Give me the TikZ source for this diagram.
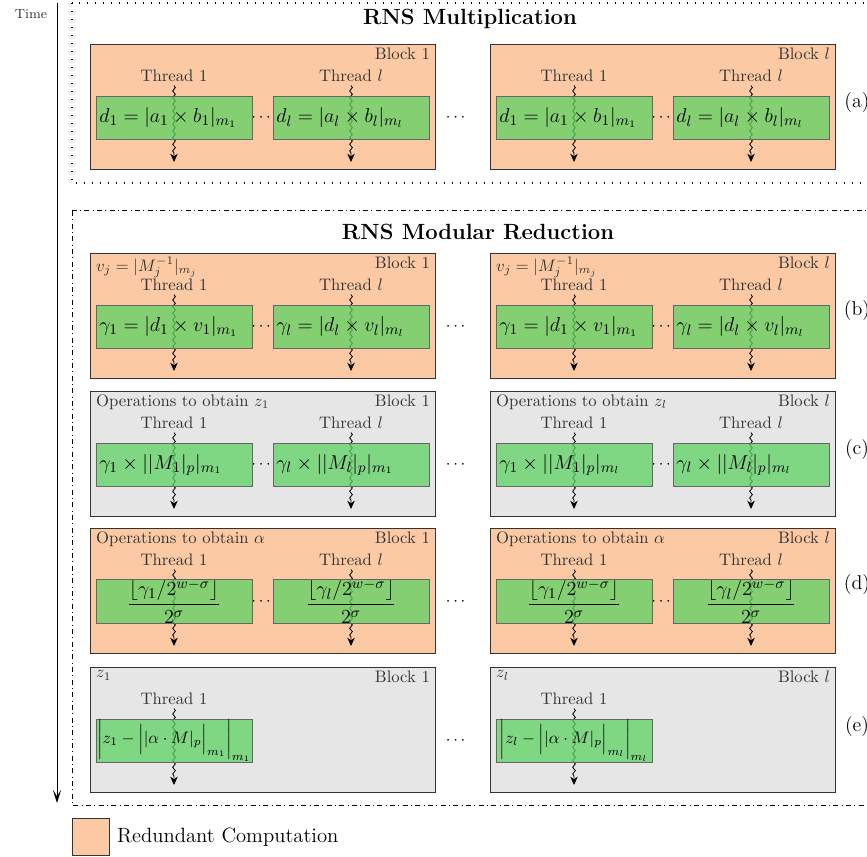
\documentclass[tikz,border=0pt]{standalone}
\usepackage{amsmath}
\usepackage{tikz}
\usetikzlibrary{arrows.meta, decorations.pathmorphing, positioning}
\definecolor{peach}{HTML}{FBC9A4}
\definecolor{thrgreen}{HTML}{5ED263}
\definecolor{blkgray}{HTML}{E6E6E6}

\tikzset{
  blockbox/.style={draw=black!80, line width=0.6pt, minimum width=207pt, minimum height=75pt, inner sep=0pt},
  hdr/.style={text=black!80, inner xsep=3.5pt, inner ysep=2pt},
  thrlabel/.style={text=black!80, inner sep=2pt},
  thrbox/.style={draw=black!60, fill=thrgreen, fill opacity=0.75, text opacity=1,
    minimum width=93.6pt, minimum height=25.8pt, text width=89.6pt,
    inner xsep=2pt, inner ysep=0pt, align=left, font=\fontsize{12.8}{15}\selectfont},
  widebox/.style={text width={}, inner xsep=0.5pt, font=\normalsize},
  thrflow/.style={line width=0.5pt, -{Stealth[length=5pt, width=4.5pt]},
    decorate, decoration={snake, amplitude=0.8pt, segment length=4pt, post length=4pt}},
  title/.style={font=\fontsize{13.2}{16}\selectfont\bfseries},
  rowlabel/.style={font=\large}
}

% block: name, left, top, fill, block label, header, gap text
\newcommand{\gpublock}[7]{%
  \node[blockbox, fill=#4, anchor=north west] (#1) at (#2,#3) {};
  \node[hdr, anchor=north east] (#1n) at (#1.north east) {#5};
  \node[hdr, anchor=north west] (#1h) at (#1.north west) {#6};
  \node (#1d) at (#2+172.5,#3+73.5) {#7};
}
% thread: [box style] name, centre x, block top, label, body
\newcommand{\gputhread}[6][]{%
  \node[thrlabel] (#2l) at (#3,#4+32) {#5};
  \coordinate (#2e) at (#3,#4+118);
  \draw[thrflow] (#2l) -- (#2e);
  \node[thrbox,#1] (#2) at (#3,#4+73.5) {#6};
}

\begin{document}
\begin{tikzpicture}[x=0.6pt, y=-0.6pt]
  \useasboundingbox (0,0) rectangle (867,857);
  \clip (0,0) rectangle (867,857);

  % time axis
  \node[font=\footnotesize, text=black!80] (time) at (31,14) {Time};
  \coordinate (t0) at (57,3);
  \coordinate (t1) at (57,803);
  \draw[line width=0.6pt, -{Stealth[length=8pt, width=5pt, inset=4pt]}] (t0) -- (t1);

  % frames
  \draw[line width=0.8pt, dash pattern=on 0.8pt off 4pt] (72,3) rectangle (880,183);
  \node[title] (mul) at (470,19) {RNS Multiplication};
  \draw[line width=0.6pt, dash dot] (72,211) rectangle (880,805);
  \node[title] (red) at (478,232) {RNS Modular Reduction};

  % (a) multiplication
  \gpublock{a1}{90}{44}{peach}{Block 1}{}{$\cdots$}
  \gpublock{al}{490}{44}{peach}{Block $l$}{}{$\cdots$}
  \gputhread{a11}{174}{44}{Thread 1}{$d_1 = |a_1 \times b_1|_{m_1}$}
  \gputhread{a1l}{351}{44}{Thread $l$}{$d_l = |a_l \times b_l|_{m_l}$}
  \gputhread{al1}{574}{44}{Thread 1}{$d_1 = |a_1 \times b_1|_{m_1}$}
  \gputhread{all}{751}{44}{Thread $l$}{$d_l = |a_l \times b_l|_{m_l}$}
  \node (ad) at (457,117.5) {$\cdots$};
  \node[rowlabel] (la) at (857,103) {(a)};

  % (b)
  \gpublock{b1}{90}{253}{peach}{Block 1}{$v_j = |M_j^{-1}|_{m_j}$}{$\cdots$}
  \gpublock{bl}{490}{253}{peach}{Block $l$}{$v_j = |M_j^{-1}|_{m_j}$}{$\cdots$}
  \gputhread{b11}{174}{253}{Thread 1}{$\gamma_1 = |d_1 \times v_1|_{m_1}$}
  \gputhread{b1l}{351}{253}{Thread $l$}{$\gamma_l = |d_l \times v_l|_{m_l}$}
  \gputhread{bl1}{574}{253}{Thread 1}{$\gamma_1 = |d_1 \times v_1|_{m_1}$}
  \gputhread{bll}{751}{253}{Thread $l$}{$\gamma_l = |d_l \times v_l|_{m_l}$}
  \node (bd) at (457,326.5) {$\cdots$};
  \node[rowlabel] (lb) at (857,311) {(b)};

  % (c)
  \gpublock{c1}{90}{391}{blkgray}{Block 1}{Operations to obtain $z_1$}{$\cdots$}
  \gpublock{cl}{490}{391}{blkgray}{Block $l$}{Operations to obtain $z_l$}{$\cdots$}
  \gputhread{c11}{174}{391}{Thread 1}{$\gamma_1 \times ||M_1|_p|_{m_1}$}
  \gputhread{c1l}{351}{391}{Thread $l$}{$\gamma_l \times ||M_l|_p|_{m_1}$}
  \gputhread{cl1}{574}{391}{Thread 1}{$\gamma_1 \times ||M_1|_p|_{m_l}$}
  \gputhread{cll}{751}{391}{Thread $l$}{$\gamma_l \times ||M_l|_p|_{m_l}$}
  \node (cd) at (457,464.5) {$\cdots$};
  \node[rowlabel] (lc) at (857,450) {(c)};

  % (d)
  \gpublock{d1}{90}{528}{peach}{Block 1}{Operations to obtain $\alpha$}{$\cdots$}
  \gpublock{dl}{490}{528}{peach}{Block $l$}{Operations to obtain $\alpha$}{$\cdots$}
  \gputhread[align=center]{d11}{174}{528}{Thread 1}{$\dfrac{\lfloor\gamma_1/2^{w-\sigma}\rfloor}{2^\sigma}$}
  \gputhread[align=center]{d1l}{351}{528}{Thread $l$}{$\dfrac{\lfloor\gamma_l/2^{w-\sigma}\rfloor}{2^\sigma}$}
  \gputhread[align=center]{dl1}{574}{528}{Thread 1}{$\dfrac{\lfloor\gamma_1/2^{w-\sigma}\rfloor}{2^\sigma}$}
  \gputhread[align=center]{dll}{751}{528}{Thread $l$}{$\dfrac{\lfloor\gamma_l/2^{w-\sigma}\rfloor}{2^\sigma}$}
  \node (dd) at (457,601.5) {$\cdots$};
  \node[rowlabel] (ld) at (857,585) {(d)};

  % (e)
  \gpublock{e1}{90}{667}{blkgray}{Block 1}{$z_1$}{}
  \gpublock{el}{490}{667}{blkgray}{Block $l$}{$z_l$}{}
  \gputhread[widebox]{e11}{174}{667}{Thread 1}%
    {$\biggl|z_1 - \Bigl||\alpha\cdot M|_p\Bigr|_{m_1}\biggr|_{m_1}$}
  \gputhread[widebox]{el1}{574}{667}{Thread 1}%
    {$\biggl|z_l - \Bigl||\alpha\cdot M|_p\Bigr|_{m_l}\biggr|_{m_l}$}
  \node (ed) at (457,740.5) {$\cdots$};
  \node[rowlabel] (le) at (857,727) {(e)};

  % legend
  \node[draw=black!80, fill=peach, minimum size=22.2pt, inner sep=0pt, anchor=north west] (leg) at (72,818) {};
  \node[font=\fontsize{12.4}{15}\selectfont, right=1pt of leg] (legt) {Redundant Computation};
\end{tikzpicture}
\end{document}
